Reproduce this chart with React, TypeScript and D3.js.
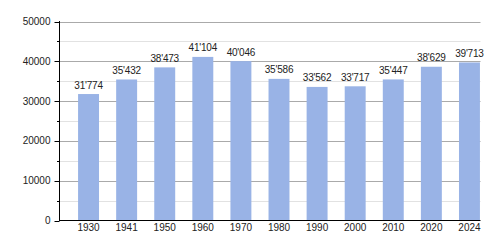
import React from "react";
import * as d3 from "d3";

const years = ["1930", "1941", "1950", "1960", "1970", "1980", "1990", "2000", "2010", "2020", "2024"];
const population = [31774, 35432, 38473, 41104, 40046, 35586, 33562, 33717, 35447, 38629, 39713];
const majorTicks = [0, 10000, 20000, 30000, 40000, 50000];
const minorTicks = [5000, 15000, 25000, 35000, 45000];

const W = 500;
const H = 250;
const axisX = 59.5;
const plotRight = 480.5;
const font = "'Liberation Sans', Arial, sans-serif";

const fmt = (v: number) => {
  const s = String(v);
  return s.length > 3 ? s.slice(0, s.length - 3) + "'" + s.slice(s.length - 3) : s;
};

export default function App() {
  const y = d3.scaleLinear().domain([0, 50000]).range([220.5, 21.5]);
  const x = d3
    .scaleBand<string>()
    .domain(years)
    .range([69.5, 488.5])
    .paddingInner(0.45)
    .paddingOuter(0.225);

  return (
    <svg width={W} height={H} style={{ position: "absolute", left: 0, top: 0, background: "#fff" }}>
      {minorTicks.map((t) => (
        <g key={"mn" + t}>
          <line x1={axisX} x2={plotRight} y1={Math.round(y(t)) + 0.5} y2={Math.round(y(t)) + 0.5} stroke="#e2e2e2" strokeWidth={1} />
          <line x1={axisX - 2.5} x2={axisX} y1={Math.round(y(t)) + 0.5} y2={Math.round(y(t)) + 0.5} stroke="#000" strokeWidth={1} />
        </g>
      ))}
      {majorTicks.map((t) => (
        <g key={"mj" + t}>
          {t > 0 && (
            <line x1={axisX} x2={plotRight} y1={Math.round(y(t)) + 0.5} y2={Math.round(y(t)) + 0.5} stroke="#aaaaaa" strokeWidth={1} />
          )}
          <line x1={axisX - 5} x2={axisX} y1={Math.round(y(t)) + 0.5} y2={Math.round(y(t)) + 0.5} stroke="#000" strokeWidth={1} />
          <text
            x={axisX - 9}
            y={y(t)}
            dy="0.35em"
            textAnchor="end"
            fontFamily={font}
            fontSize={10}
            fill="#222"
          >
            {t}
          </text>
        </g>
      ))}
      {years.map((yr, i) => {
        const v = population[i];
        const bx = x(yr)!;
        const bw = x.bandwidth();
        return (
          <g key={yr}>
            <rect x={bx} y={y(v)} width={bw} height={y(0) - y(v)} fill="#99b3e6" />
            <text
              x={bx + bw / 2}
              y={y(v) - 5.5}
              textAnchor="middle"
              fontFamily={font}
              fontSize={10}
              letterSpacing={-0.2}
              fill="#222"
            >
              {fmt(v)}
            </text>
            <text
              x={bx + bw / 2}
              y={231}
              textAnchor="middle"
              fontFamily={font}
              fontSize={10}
              fill="#222"
            >
              {yr}
            </text>
          </g>
        );
      })}
      <line x1={axisX} x2={axisX} y1={21} y2={221} stroke="#000" strokeWidth={1} />
      <line x1={axisX} x2={plotRight} y1={220.5} y2={220.5} stroke="#000" strokeWidth={1} />
    </svg>
  );
}
